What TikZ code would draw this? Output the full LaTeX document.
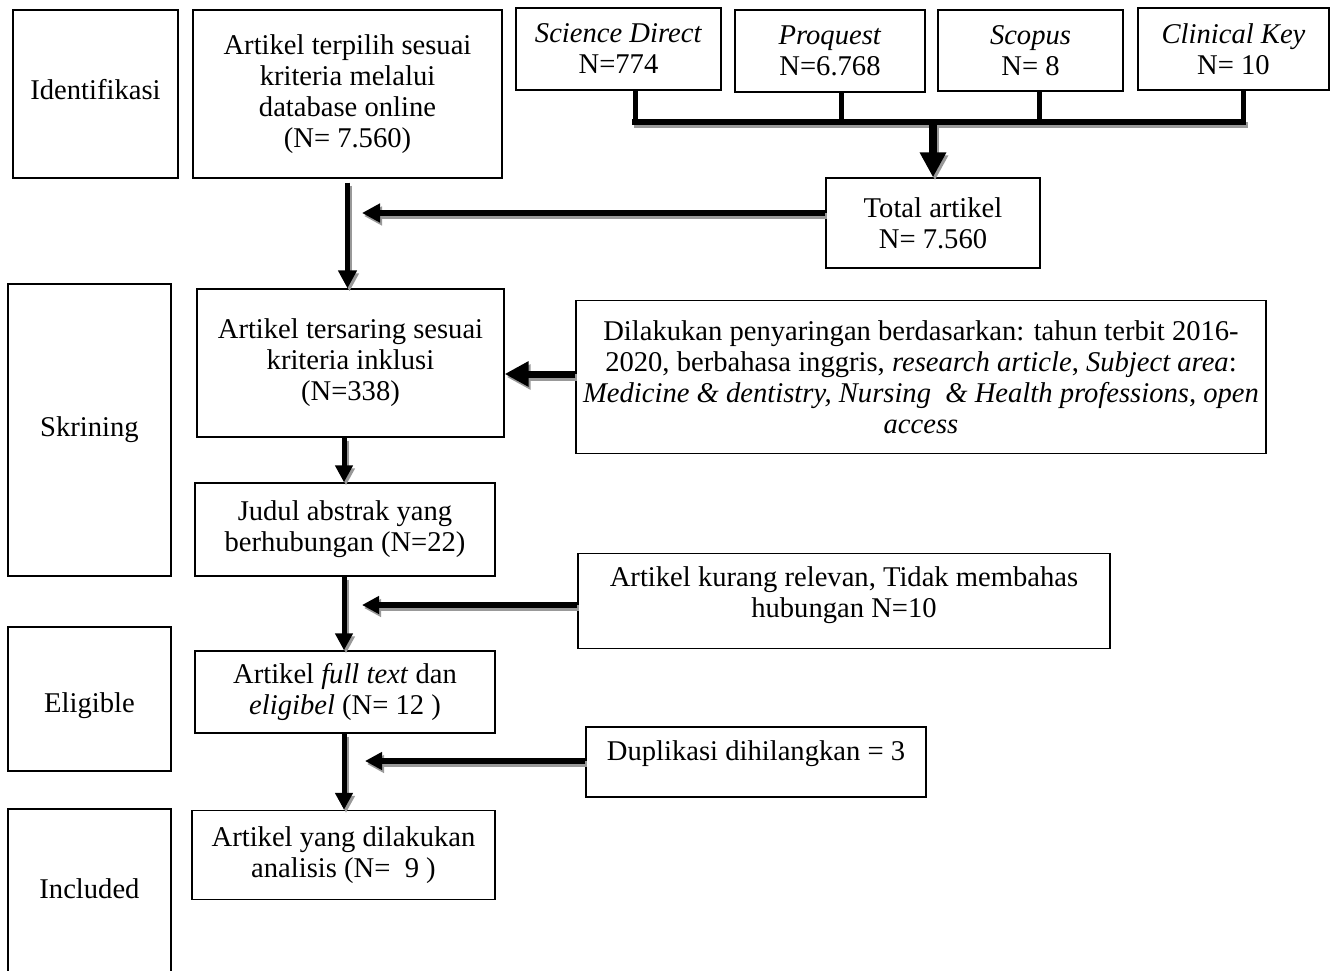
\documentclass[tikz,border=0pt]{standalone}
\usepackage{fontspec}
\setmainfont{Liberation Serif}
\usetikzlibrary{arrows.meta}
\begin{document}
\begin{tikzpicture}[x=1pt,y=-1pt,
  box/.style={draw=black, line width=1.3pt, inner sep=0pt, align=center,
    font=\fontsize{28.6}{31}\selectfont},
  txt/.style={inner sep=0pt, align=center, font=\fontsize{28.6}{31}\selectfont},
  arr/.style 2 args={line width=#1, -{Triangle[width=#2,length=#2]},
    preaction={draw=black!40, line width=#1, -{Triangle[width=#2,length=#2]},
      transform canvas={shift={(2pt,-3pt)}}}},
  busv/.style={line width=5pt},
  bush/.style={line width=6.5pt, line cap=butt,
    preaction={draw=black!40, line width=6.5pt, transform canvas={shift={(2pt,-3pt)}}}}
]
\useasboundingbox (0,0) rectangle (1333,971);

% left stage boxes
\node[box, minimum width=165pt, minimum height=168pt] (ident) at (95.5,94) {};
\node[txt] (identT) at (95.5,90) {Identifikasi};
\node[box, minimum width=163pt, minimum height=292pt] (skrin) at (89.5,430) {};
\node[txt] (skrinT) at (89.5,430) {Skrining};
\node[box, minimum width=163pt, minimum height=144pt] (elig) at (89.5,699) {};
\node[txt] (eligT) at (89.5,706) {Eligible};
\node[box, minimum width=163pt, minimum height=200pt] (incl) at (89.5,909) {};
\node[txt] (inclT) at (89.5,889) {Included};

% main column
\node[box, minimum width=309pt, minimum height=168pt] (terpilih) at (347.5,94)
  {Artikel terpilih sesuai\\kriteria melalui\\database online\\(N= 7.560)};
\node[box, minimum width=307pt, minimum height=148pt] (tersaring) at (350.5,363)
  {Artikel tersaring sesuai\\kriteria inklusi\\(N=338)};
\node[box, minimum width=300pt, minimum height=93pt] (judul) at (345,529.5)
  {Judul abstrak yang\\berhubungan (N=22)};
\node[box, minimum width=300pt, minimum height=82pt] (fulltext) at (345,692)
  {Artikel \textit{full text} dan\\\textit{eligibel} (N= 12 )};
\node[box, minimum width=303pt, minimum height=89pt] (analisis) at (343.5,855)
  {Artikel yang dilakukan\\analisis (N=\ \ 9 )};

% databases
\node[box, minimum width=205pt, minimum height=82pt] (sd) at (618.5,49)
  {\textit{Science Direct}\\N=774};
\node[box, minimum width=190pt, minimum height=82pt] (pq) at (830,51)
  {\textit{Proquest}\\N=6.768};
\node[box, minimum width=185pt, minimum height=81pt] (sc) at (1030.5,50.5)
  {\textit{Scopus}\\N= 8};
\node[box, minimum width=191pt, minimum height=82pt] (ck) at (1233.5,49)
  {\textit{Clinical Key}\\N= 10};
\node[box, minimum width=214pt, minimum height=90pt] (total) at (933,223)
  {Total artikel\\N= 7.560};

% right side boxes
\node[box, minimum width=690pt, minimum height=153pt] (dilakukan) at (921,377)
  {Dilakukan penyaringan berdasarkan: tahun terbit 2016-\\
   2020, berbahasa inggris, \textit{research article}, \textit{Subject area}:\\
   \textit{Medicine \& dentistry, Nursing\ \ \& Health professions, open}\\
   \textit{access}};
\node[box, minimum width=532pt, minimum height=95pt] (relevan) at (844,601) {};
\node[txt] (relevanT) at (844,595) {Artikel kurang relevan, Tidak membahas\\hubungan N=10};
\node[box, minimum width=340pt, minimum height=70pt] (dup) at (756,762) {};
\node[txt] (dupT) at (756,754) {Duplikasi dihilangkan = 3};

% bus from databases
\coordinate (busL) at (632,122);
\coordinate (busR) at (1245.5,122);
\coordinate (busM) at (933,122);
\draw[bush] (busL) -- (busR);
\draw[busv] ([xshift=16.5pt]sd.south) -- ++(0,32);
\draw[busv] ([xshift=11pt]pq.south) -- ++(0,30);
\draw[busv] ([xshift=8.5pt]sc.south) -- ++(0,31);
\draw[busv] ([xshift=9.5pt]ck.south) -- ++(0,32);
\draw[arr={8pt}{25pt}] (busM) -- (total.north);

% side arrows
\coordinate (h1) at (362,213);
\draw[arr={6pt}{18pt}] (total.west |- h1) -- (h1);
\draw[arr={7pt}{24pt}] (dilakukan.west |- 0,374) -- ([yshift=-11pt]tersaring.east);
\coordinate (h3) at (362,605);
\draw[arr={6pt}{17pt}] (relevan.west |- h3) -- (h3);
\coordinate (h4) at (365,761);
\draw[arr={6pt}{17pt}] (dup.west |- h4) -- (h4);

% main flow arrows
\draw[arr={5pt}{18pt}] ([yshift=-4pt]terpilih.south) -- (terpilih.south |- tersaring.north);
\draw[arr={5pt}{17pt}] ([xshift=-6.5pt]tersaring.south) -- ([xshift=-6.5pt]tersaring.south |- judul.north);
\draw[arr={5pt}{17pt}] ([xshift=-1pt]judul.south) -- ([xshift=-1pt]judul.south |- fulltext.north);
\draw[arr={5pt}{17pt}] ([xshift=-1pt]fulltext.south) -- ([xshift=-1pt]fulltext.south |- analisis.north);
\end{tikzpicture}
\end{document}
